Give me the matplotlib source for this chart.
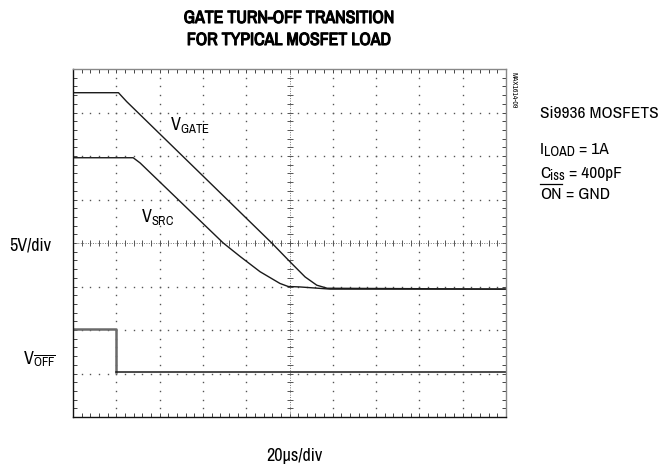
import numpy as np
import matplotlib
matplotlib.use("Agg")
import matplotlib.pyplot as plt
from matplotlib.ticker import MultipleLocator
from matplotlib import font_manager as fm
from matplotlib.lines import Line2D
import matplotlib.patheffects as pe

avail = {f.name for f in fm.fontManager.ttflist}
cands = ['Liberation Sans Narrow', 'Arial Narrow', 'Archivo Narrow', 'Roboto Condensed',
         'PT Sans Narrow', 'Fira Sans Condensed', 'IBM Plex Sans Condensed',
         'Encode Sans Condensed', 'Open Sans Condensed', 'Pragati Narrow', 'Liberation Sans']
FONT = next((c for c in cands if c in avail), 'DejaVu Sans')

plt.rcParams['font.family'] = [FONT, 'Liberation Sans', 'DejaVu Sans']
plt.rcParams['mathtext.fontset'] = 'custom'
plt.rcParams['mathtext.rm'] = FONT
plt.rcParams['mathtext.it'] = FONT
plt.rcParams['mathtext.bf'] = FONT
plt.rcParams['mathtext.default'] = 'regular'

# --- data (divisions: x = 20us/div, y = 5V/div) ---
gate_x = [0.0, 1.05, 1.24, 4.59, 5.01, 5.36, 5.63, 5.87, 10.0]
gate_y = [7.455, 7.455, 7.25, 4.00, 3.57, 3.22, 3.03, 2.96, 2.94]
src_x = [0.0, 1.39, 1.55, 3.47, 3.86, 4.32, 4.78, 4.97, 5.24, 5.94, 10.0]
src_y = [5.96, 5.96, 5.84, 4.00, 3.69, 3.34, 3.07, 3.00, 2.99, 2.94, 2.94]
off_x = [0.0, 0.99, 0.99, 10.0]
off_y = [2.02, 2.02, 1.03, 1.03]

title_lines = ['GATE TURN-OFF TRANSITION', 'FOR TYPICAL MOSFET LOAD']

W, H = 662, 467
fig = plt.figure(figsize=(W / 100, H / 100), dpi=100)
ax = fig.add_axes([73 / W, (467 - 417) / H, 433 / W, 348 / H])
ax.set_xlim(0, 10)
ax.set_ylim(0, 8)

# grid dots
gc = '#555555'
fine = np.arange(0, 10.001, 0.2)
fine_y = np.arange(0, 8.001, 0.2)
for k in range(1, 10):
    if k == 5:
        continue
    ax.plot(np.full_like(fine_y, k), fine_y, ls='none', marker='s', ms=1.0, color=gc, mew=0)
for j in range(1, 8):
    if j == 4:
        continue
    ax.plot(fine, np.full_like(fine, j), ls='none', marker='s', ms=1.0, color=gc, mew=0)
# center lines
ax.axvline(5, color='#777777', lw=0.7, ls=(0, (1, 1.5)))
ax.axhline(4, color='#777777', lw=0.7, ls=(0, (1, 1.5)))
ax.plot(np.full_like(fine_y, 5), fine_y, ls='none', marker='_', ms=4, color=gc, mew=0.7)
ax.plot(fine, np.full_like(fine, 4), ls='none', marker='|', ms=4, color=gc, mew=0.7)

# traces
ax.plot(gate_x, gate_y, color='#1a1a1a', lw=1.0)
ax.plot(src_x, src_y, color='#1a1a1a', lw=1.0)
ax.plot(off_x[:3], off_y[:3], color='#6a6a6a', lw=1.8)
ax.plot(off_x[2:], off_y[2:], color='#1a1a1a', lw=1.1)

# frame ticks
for axis in (ax.xaxis, ax.yaxis):
    axis.set_major_locator(MultipleLocator(1))
    axis.set_minor_locator(MultipleLocator(0.2))
ax.tick_params(which='both', direction='in', length=3, width=0.7, color='#444444',
               top=True, right=True, labelbottom=False, labelleft=False)
for s in ('left', 'bottom'):
    ax.spines[s].set_color('#111111')
    ax.spines[s].set_linewidth(1.0)
for s in ('top', 'right'):
    ax.spines[s].set_color('#888888')
    ax.spines[s].set_linewidth(1.0)

renderer = fig.canvas.get_renderer()


def chain(x, y, parts):
    """parts: (text, fontsize, dy_px, overline) placed one after another; x,y px from top-left."""
    cx = x
    for s, size, dy, over in parts:
        t = fig.text(cx / W, 1 - (y + dy) / H, s, fontsize=size, ha='left', va='baseline')
        bb = t.get_window_extent(renderer)
        if over:
            top = y + dy - 0.74 * size * 100 / 72 - 2
            fig.add_artist(Line2D([cx / W, (cx + bb.width) / W], [1 - top / H, 1 - top / H],
                                  color='black', lw=0.9, transform=fig.transFigure))
        cx += bb.width


# labels
fs = 12.5
fsv = 13
fig.text(170 / W, 1 - 130 / H, r'$\mathregular{V_{GATE}}$', fontsize=fsv, ha='left', va='baseline')
fig.text(141 / W, 1 - 222 / H, r'$\mathregular{V_{SRC}}$', fontsize=fsv, ha='left', va='baseline')

for i, line in enumerate(title_lines):
    fig.text(289 / W, 1 - (18 + 22 * i) / H, line, ha='center', va='center', fontsize=12.8,
             fontweight='bold', path_effects=[pe.withStroke(linewidth=0.8, foreground='black')])

fig.text(9 / W, 1 - 251 / H, '5V/div', fontsize=13, ha='left', va='baseline')
fig.text(23 / W, 1 - 364 / H, r'$\mathregular{V_{\overline{OFF}}}$', fontsize=fsv, ha='left', va='baseline')
fig.text(294 / W, 1 - 461 / H, '20µs/div', fontsize=13, ha='center', va='baseline')

chain(540, 118, [('Si9936 MOSFETS', fs, 0, False)])
chain(540, 154, [('I', fs, 0, False), ('LOAD', fs * 0.8, 2.5, False), (' = 1A', fs, 0, False)])
chain(540, 178, [('C', fs, 0, False), ('iss', fs * 0.8, 2.5, False), (' = 400pF', fs, 0, False)])
chain(540, 199, [('ON', fs, 0, True), (' = GND', fs, 0, False)])
fig.text(514 / W, 1 - 90 / H, 'MAX1614-09', fontsize=5.5, rotation=270, ha='center', va='center')

fig.savefig('out.png', dpi=100)
